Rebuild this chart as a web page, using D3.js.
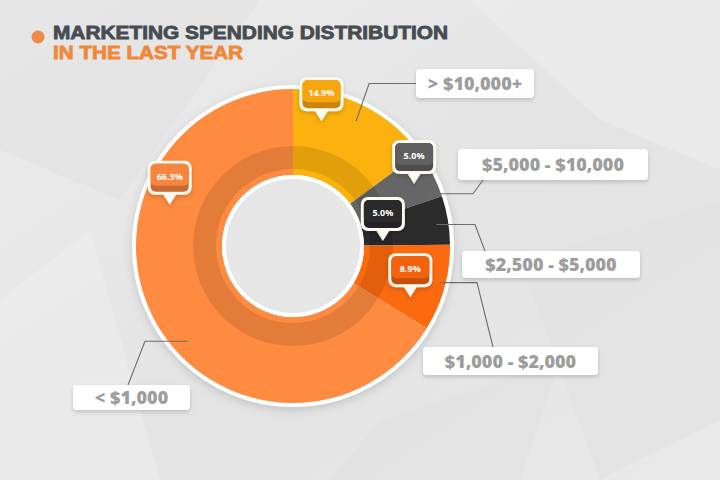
<!DOCTYPE html>
<html>
<head>
<meta charset="utf-8">
<script src="https://cdn.jsdelivr.net/npm/d3@7/dist/d3.min.js"></script>
<style>
  html, body { margin: 0; padding: 0; background: #e7e7e7; }
  svg { display: block; }
</style>
</head>
<body>
<svg id="chart" width="720" height="480"></svg>
<script>
// ---- data ----
const titleLines = ["MARKETING SPENDING DISTRIBUTION", "IN THE LAST YEAR"];
const categories = ["> $10,000+", "$5,000 - $10,000", "$2,500 - $5,000", "$1,000 - $2,000", "< $1,000"];
const shares = [14.9, 5.0, 5.0, 8.9, 66.3];
const shareLabels = ["14.9%", "5.0%", "5.0%", "8.9%", "66.3%"];

// ---- styles / layout ----
const sliceColors = ["#fbb10e", "#666666", "#2b2b2b", "#fb6a0f", "#fe8b40"];
const bubbleColors = ["#f7a60c", "#5f5f5f", "#2a2a2a", "#f4620b", "#f8853e"];
// placement of callouts within each slice (fraction of the slice's angle span, radius)
const bubblePlace = [[0.24, 128], [0.52, 136], [0.85, 90], [0.75, 128], [0.70, 130]];
const leaderPlace = [[0.50, 140], [0.85, 145], [0.55, 145], [0.45, 152], [0.446, 142]];
// label boxes [x, y, w, h] and leader routing
const labelBoxes = [[416, 69, 118, 29], [458, 149, 190, 31], [462, 251, 178, 27], [423, 347, 175, 28], [73, 385, 117, 25]];
const leaderRoutes = [
  {mode: "v", dx: 13},
  {mode: "h", ex: 473, end: [483, "bottom"]},
  {mode: "h", ex: 475, end: [485, "top"]},
  {mode: "h", ex: 477, end: [493, "top"]},
  {mode: "h", ex: 145, end: [128, "top"]}
];

const svg = d3.select("#chart");
const W = 720, H = 480;
const cx = 293, cy = 246;
const rHole = 67, rIn = 71, rOut = 157, rRim = 161;

const defs = svg.append("defs");
const bg = defs.append("linearGradient").attr("id", "bgGrad").attr("x1", 0).attr("y1", 0).attr("x2", 1).attr("y2", 1);
bg.append("stop").attr("offset", "0%").attr("stop-color", "#ececec");
bg.append("stop").attr("offset", "55%").attr("stop-color", "#e4e4e4");
bg.append("stop").attr("offset", "100%").attr("stop-color", "#e9e9e9");

const sh = defs.append("filter").attr("id", "shadow").attr("x", "-20%").attr("y", "-20%").attr("width", "140%").attr("height", "150%");
sh.append("feDropShadow").attr("dx", 0).attr("dy", 2).attr("stdDeviation", 2).attr("flood-color", "#000").attr("flood-opacity", 0.18);
const sh2 = defs.append("filter").attr("id", "shadowBig").attr("x", "-20%").attr("y", "-20%").attr("width", "140%").attr("height", "140%");
sh2.append("feDropShadow").attr("dx", 0).attr("dy", 3).attr("stdDeviation", 5).attr("flood-color", "#000").attr("flood-opacity", 0.15);

// background
svg.append("rect").attr("width", W).attr("height", H).attr("fill", "url(#bgGrad)");
const poly = [
  [[0, 0], [260, 0], [120, 200], [0, 150]],
  [[470, 0], [720, 0], [720, 170], [600, 120]],
  [[520, 260], [720, 200], [720, 420], [600, 480]],
  [[0, 300], [90, 230], [160, 480], [0, 480]],
  [[380, 420], [560, 360], [520, 480], [330, 480]]
];
svg.append("g").selectAll("path").data(poly).join("path")
  .attr("d", d => "M" + d.map(p => p.join(",")).join("L") + "Z")
  .attr("fill", (d, i) => i % 2 ? "#efefef" : "#dfdfdf")
  .attr("opacity", 0.45);

// title
svg.append("circle").attr("cx", 38).attr("cy", 37).attr("r", 6.5).attr("fill", "#f08a48");
svg.append("text").attr("x", 53).attr("y", 38.5)
  .attr("font-family", "'Liberation Sans', Arial, sans-serif").attr("font-weight", 700)
  .attr("font-size", 18.5).attr("fill", "#474c52").attr("stroke", "#474c52").attr("stroke-width", 0.8)
  .attr("textLength", 395).attr("lengthAdjust", "spacingAndGlyphs").text(titleLines[0]);
svg.append("text").attr("x", 53).attr("y", 59)
  .attr("font-family", "'Liberation Sans', Arial, sans-serif").attr("font-weight", 700)
  .attr("font-size", 18.5).attr("fill", "#f08838").attr("stroke", "#f08838").attr("stroke-width", 0.8)
  .attr("textLength", 190).attr("lengthAdjust", "spacingAndGlyphs").text(titleLines[1]);

// donut
const arcs = d3.pie().sort(null).value(d => d)(shares);
const g = svg.append("g").attr("transform", `translate(${cx},${cy})`);
g.append("circle").attr("r", rRim).attr("fill", "#ffffff").attr("filter", "url(#shadowBig)");
const arcGen = d3.arc().innerRadius(rIn).outerRadius(rOut);
g.selectAll("path.slice").data(arcs).join("path").attr("class", "slice")
  .attr("d", arcGen).attr("fill", (d, i) => sliceColors[i]);
// darker inner band
g.append("path")
  .attr("d", d3.arc().innerRadius(77).outerRadius(100).startAngle(0).endAngle(2 * Math.PI)())
  .attr("fill", "#000").attr("opacity", 0.1);
// hole
g.append("circle").attr("r", rIn).attr("fill", "#ffffff");
g.append("circle").attr("r", rHole).attr("fill", "#e6e6e6");

function polar(a, r) { return [cx + r * Math.sin(a), cy - r * Math.cos(a)]; }
function angleAt(d, f) { return d.startAngle + f * (d.endAngle - d.startAngle); }

// leader lines
const leaders = svg.append("g");
arcs.forEach((d, i) => {
  const s = polar(angleAt(d, leaderPlace[i][0]), leaderPlace[i][1]);
  const [bx, by, bw, bh] = labelBoxes[i];
  const r = leaderRoutes[i];
  let pts;
  if (r.mode === "v") {
    pts = [s, [s[0] + r.dx, by + bh / 2], [bx, by + bh / 2]];
  } else {
    const ey = r.end[1] === "top" ? by : by + bh;
    pts = [s, [r.ex, s[1]], [r.end[0], ey]];
  }
  leaders.append("path").attr("d", d3.line()(pts))
    .attr("fill", "none").attr("stroke", "#6e6e6e").attr("stroke-width", 1.1);
});

// category label boxes
const lb = svg.append("g").selectAll("g").data(categories).join("g");
lb.append("rect")
  .attr("x", (d, i) => labelBoxes[i][0]).attr("y", (d, i) => labelBoxes[i][1])
  .attr("width", (d, i) => labelBoxes[i][2]).attr("height", (d, i) => labelBoxes[i][3])
  .attr("rx", 4).attr("fill", "#ffffff").attr("filter", "url(#shadow)");
lb.append("text")
  .attr("x", (d, i) => labelBoxes[i][0] + labelBoxes[i][2] / 2)
  .attr("y", (d, i) => labelBoxes[i][1] + labelBoxes[i][3] / 2 + 6.5)
  .attr("text-anchor", "middle")
  .attr("font-family", "'Open Sans', 'DejaVu Sans', sans-serif").attr("font-weight", 800)
  .attr("font-size", 18).attr("fill", "#9d9d9d")
  .text(d => d);

// percentage bubbles
const bw = 44, bh = 34, pt = 10;
arcs.forEach((d, i) => {
  const tip = polar(angleAt(d, bubblePlace[i][0]), bubblePlace[i][1]);
  const x0 = tip[0] - bw / 2, y0 = tip[1] - pt - bh;
  const b = svg.append("g").attr("filter", "url(#shadow)");
  b.append("path")
    .attr("d", `M${tip[0] - 7},${y0 + bh - 1} L${tip[0]},${tip[1]} L${tip[0] + 7},${y0 + bh - 1} Z`)
    .attr("fill", "#fdf8f0");
  b.append("rect").attr("x", x0).attr("y", y0).attr("width", bw).attr("height", bh)
    .attr("rx", 7).attr("fill", "#fdf8f0");
  const c = d3.color(bubbleColors[i]);
  b.append("rect").attr("x", x0 + 3).attr("y", y0 + 3).attr("width", bw - 6).attr("height", bh - 6)
    .attr("rx", 5).attr("fill", c.darker(0.6));
  b.append("rect").attr("x", x0 + 3).attr("y", y0 + 3).attr("width", bw - 6).attr("height", bh - 12)
    .attr("rx", 5).attr("fill", c);
  svg.append("text").attr("x", tip[0]).attr("y", y0 + bh / 2 + 2)
    .attr("text-anchor", "middle")
    .attr("font-family", "'Open Sans', 'DejaVu Sans', sans-serif").attr("font-weight", 700)
    .attr("font-size", 9).attr("fill", "#ffffff")
    .text(shareLabels[i]);
});
</script>
</body>
</html>
